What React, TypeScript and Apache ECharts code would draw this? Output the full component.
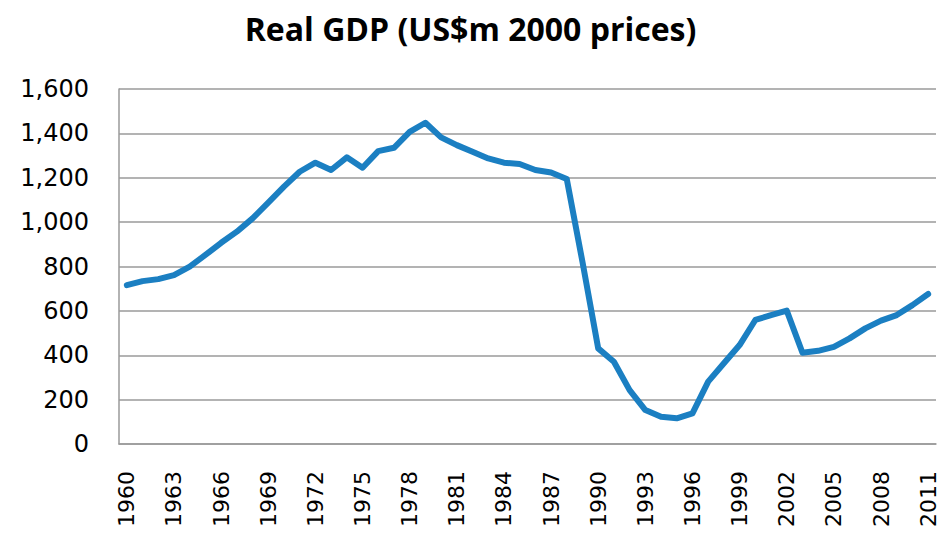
import React, { useEffect, useRef } from "react";
import * as echarts from "echarts";

const years: string[] = [];
for (let y = 1960; y <= 2011; y++) years.push(String(y));

const gdp = [
  716, 734, 743, 761, 799, 852, 907, 957, 1017, 1088,
  1160, 1227, 1268, 1235, 1292, 1245, 1320, 1335, 1407, 1448,
  1382, 1347, 1317, 1287, 1268, 1262, 1235, 1224, 1194, 820,
  431, 371, 243, 153, 123, 116, 138, 281, 364, 446,
  559, 581, 601, 411, 420, 438, 476, 521, 556, 581,
  626, 676,
];

const titleText = "Real GDP (US$m 2000 prices)";

export default function App() {
  const ref = useRef<HTMLDivElement>(null);
  useEffect(() => {
    if (!ref.current) return;
    const chart = echarts.init(ref.current, null, { renderer: "svg" });
    chart.setOption({
      animation: false,
      backgroundColor: "#ffffff",
      title: {
        text: titleText,
        left: "center",
        top: 7,
        textStyle: {
          fontFamily: "Open Sans",
          fontWeight: "bold",
          fontSize: 32,
          color: "#000",
        },
      },
      grid: { left: 119, right: 5, top: 89, bottom: 94 },
      xAxis: {
        type: "category",
        data: years,
        boundaryGap: true,
        axisLine: { lineStyle: { color: "#9a9a9a", width: 1.5 } },
        axisTick: { show: false },
        axisLabel: {
          interval: 2,
          rotate: 90,
          margin: 27,
          fontFamily: "DejaVu Sans",
          fontSize: 22,
          color: "#000",
        },
      },
      yAxis: {
        type: "value",
        min: 0,
        max: 1600,
        interval: 200,
        axisLine: { show: true, lineStyle: { color: "#9a9a9a", width: 1.5 } },
        axisTick: { show: false },
        splitLine: { lineStyle: { color: "#9a9a9a", width: 1.5 } },
        axisLabel: {
          margin: 30,
          fontFamily: "DejaVu Sans",
          fontSize: 24,
          color: "#000",
          formatter: (v: number) => v.toLocaleString("en-US"),
        },
      },
      series: [
        {
          type: "line",
          data: gdp,
          symbol: "none",
          lineStyle: { color: "#1b7fc2", width: 6, cap: "round", join: "round" },
          itemStyle: { color: "#1b7fc2" },
        },
      ],
    });
    return () => chart.dispose();
  }, []);
  return <div ref={ref} style={{ width: 941, height: 538, position: "absolute", left: 0, top: 0 }} />;
}
